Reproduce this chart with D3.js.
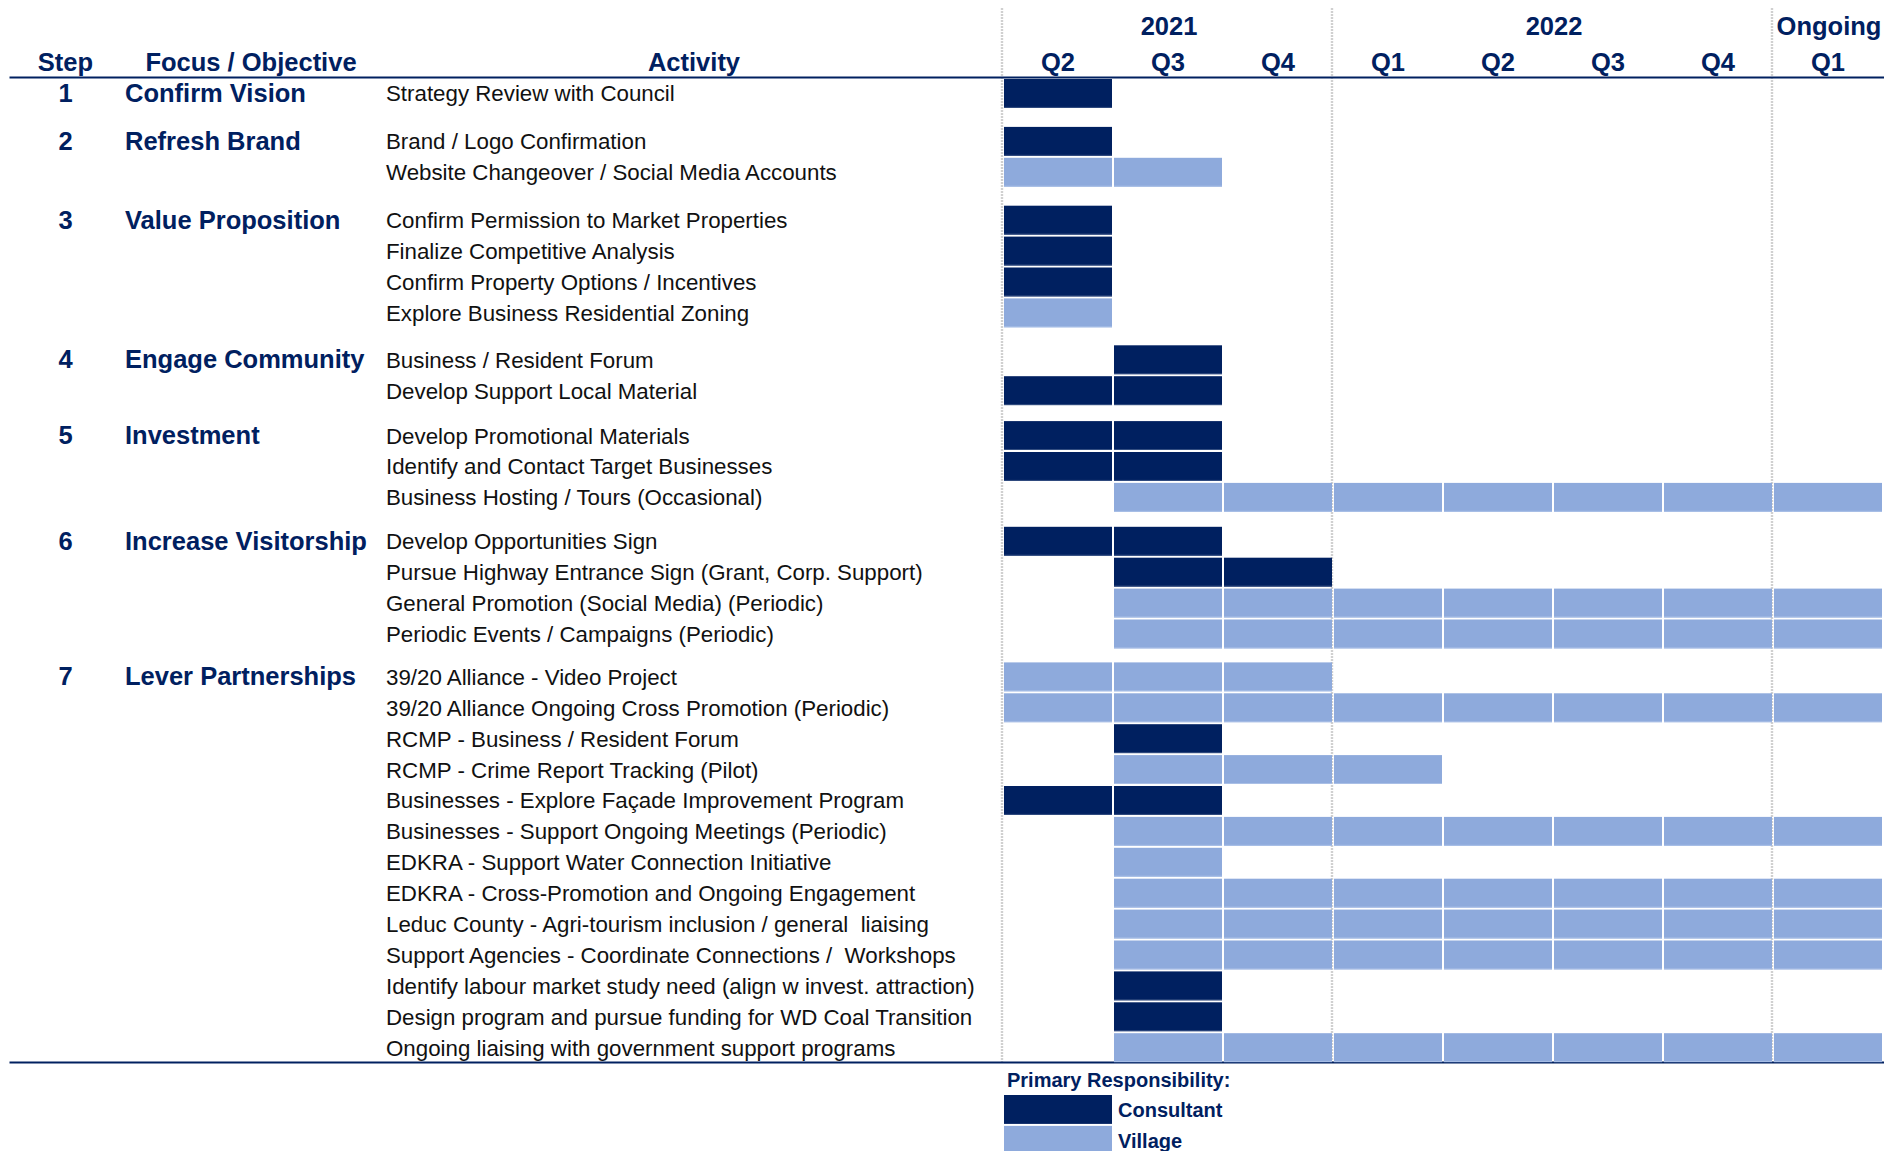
<!DOCTYPE html>
<html>
<head>
<meta charset="utf-8">
<script src="https://cdn.jsdelivr.net/npm/d3@7"></script>
<style>
  html, body { margin: 0; padding: 0; background: #ffffff; }
  svg { display: block; }
  text { font-family: "Liberation Sans", Arial, sans-serif; white-space: pre; }
</style>
</head>
<body>
<svg id="chart" width="1902" height="1151"></svg>
<script>
// ---- Timeline columns ----
const quarters = ["2021-Q2", "2021-Q3", "2021-Q4", "2022-Q1", "2022-Q2", "2022-Q3", "2022-Q4", "Ongoing-Q1"];
const quarterLabels = ["Q2", "Q3", "Q4", "Q1", "Q2", "Q3", "Q4", "Q1"];
const yearLabels = ["2021", "2022", "Ongoing"];
const yearSpans = [[0, 2], [3, 6], [7, 7]];

// ---- Steps (focus / objective) and how many activities each one holds ----
const stepNumbers = ["1", "2", "3", "4", "5", "6", "7"];
const stepFocus = ["Confirm Vision", "Refresh Brand", "Value Proposition", "Engage Community",
                   "Investment", "Increase Visitorship", "Lever Partnerships"];
const stepSizes = [1, 2, 4, 2, 3, 4, 13];

// ---- Activities ----
const activities = [
  "Strategy Review with Council",
  "Brand / Logo Confirmation",
  "Website Changeover / Social Media Accounts",
  "Confirm Permission to Market Properties",
  "Finalize Competitive Analysis",
  "Confirm Property Options / Incentives",
  "Explore Business Residential Zoning",
  "Business / Resident Forum",
  "Develop Support Local Material",
  "Develop Promotional Materials",
  "Identify and Contact Target Businesses",
  "Business Hosting / Tours (Occasional)",
  "Develop Opportunities Sign",
  "Pursue Highway Entrance Sign (Grant, Corp. Support)",
  "General Promotion (Social Media) (Periodic)",
  "Periodic Events / Campaigns (Periodic)",
  "39/20 Alliance - Video Project",
  "39/20 Alliance Ongoing Cross Promotion (Periodic)",
  "RCMP - Business / Resident Forum",
  "RCMP - Crime Report Tracking (Pilot)",
  "Businesses - Explore Façade Improvement Program",
  "Businesses - Support Ongoing Meetings (Periodic)",
  "EDKRA - Support Water Connection Initiative",
  "EDKRA - Cross-Promotion and Ongoing Engagement",
  "Leduc County - Agri-tourism inclusion / general  liaising",
  "Support Agencies - Coordinate Connections /  Workshops",
  "Identify labour market study need (align w invest. attraction)",
  "Design program and pursue funding for WD Coal Transition",
  "Ongoing liaising with government support programs"
];
// Primary responsibility per activity: C = Consultant, V = Village
const owner = ["C", "C", "V", "C", "C", "C", "V", "C", "C", "C", "C", "V", "C", "C", "V", "V",
               "V", "V", "C", "V", "C", "V", "V", "V", "V", "V", "C", "C", "V"];
// First and last quarter (index into quarters) of each activity
const startQ = [0, 0, 0, 0, 0, 0, 0, 1, 0, 0, 0, 1, 0, 1, 1, 1, 0, 0, 1, 1, 0, 1, 1, 1, 1, 1, 1, 1, 1];
const endQ   = [0, 0, 1, 0, 0, 0, 0, 1, 1, 1, 1, 7, 1, 2, 7, 7, 2, 7, 1, 3, 1, 7, 1, 7, 7, 7, 1, 1, 7];

const legendKeys = ["C", "V"];
const legendNames = ["Consultant", "Village"];

// ---- Styling ----
const NAVY = "#002060";
const LIGHT = "#8eaadc";
const fill = d3.scaleOrdinal().domain(legendKeys).range([NAVY, LIGHT]);
const edge = d3.scaleOrdinal().domain(legendKeys).range(["#324d80", "#a9bfe6"]);

// ---- Layout ----
const ROW = 30.9;
const firstRowTop = 78;
const groupGaps = [0, 17, 17, 16, 14, 13, 12];

// Row tops: rows are stacked, with a small spacer before each new step.
const rowTops = [];
const groupStart = [];
{
  let y = firstRowTop, idx = 0;
  stepSizes.forEach((n, g) => {
    y += groupGaps[g];
    groupStart.push(idx);
    for (let k = 0; k < n; k++) { rowTops.push(y); y += ROW; idx++; }
  });
}
const yRow = d3.scaleOrdinal().domain(d3.range(activities.length)).range(rowTops);
const tableBottom = rowTops[rowTops.length - 1] + ROW;

const x = d3.scaleBand().domain(quarters).range([1002, 1882]).paddingInner(0).paddingOuter(0);
const bw = x.bandwidth();

const svg = d3.select("#chart");

// Dotted grid lines at the timeline start, the year change and the ongoing column
const gridAt = [quarters[0], quarters[3], quarters[7]];
svg.append("g").selectAll("line").data(gridAt).join("line")
  .attr("x1", d => x(d)).attr("x2", d => x(d))
  .attr("y1", 8).attr("y2", tableBottom)
  .attr("stroke", "#d0d0d0").attr("stroke-width", 2.4).attr("stroke-dasharray", "2,1");

// ---- Column headers ----
const head = svg.append("g").attr("fill", NAVY).attr("font-weight", "bold").attr("font-size", 25.5)
  .attr("text-anchor", "middle");
head.append("text").attr("x", 65.5).attr("y", 70.5).text("Step");
head.append("text").attr("x", 251).attr("y", 70.5).text("Focus / Objective");
head.append("text").attr("x", 694).attr("y", 70.5).text("Activity");
head.selectAll("text.q").data(quarters).join("text").attr("class", "q")
  .attr("x", d => x(d) + bw / 2 + 1).attr("y", 70.5)
  .text((d, i) => quarterLabels[i]);
head.selectAll("text.yr").data(yearLabels).join("text").attr("class", "yr")
  .attr("x", (d, i) => (x(quarters[yearSpans[i][0]]) + x(quarters[yearSpans[i][1]]) + bw) / 2 + 2)
  .attr("y", 35)
  .text(d => d);

// Rules under the header and under the last row
svg.append("line").attr("x1", 9.5).attr("x2", 1884).attr("y1", 77.5).attr("y2", 77.5)
  .attr("stroke", NAVY).attr("stroke-width", 2.2);
svg.append("line").attr("x1", 9.5).attr("x2", 1884).attr("y1", tableBottom - 0.5).attr("y2", tableBottom - 0.5)
  .attr("stroke", NAVY).attr("stroke-width", 2);

// ---- Step numbers and focus ----
const steps = svg.append("g").attr("fill", NAVY).attr("font-weight", "bold").attr("font-size", 25.5);
steps.selectAll("text.num").data(stepNumbers).join("text").attr("class", "num")
  .attr("x", 65.5).attr("text-anchor", "middle")
  .attr("y", (d, i) => yRow(groupStart[i]) + ROW / 2 + 8.5)
  .text(d => d);
steps.selectAll("text.focus").data(stepFocus).join("text").attr("class", "focus")
  .attr("x", 125)
  .attr("y", (d, i) => yRow(groupStart[i]) + ROW / 2 + 8.5)
  .text(d => d);

// ---- Activity names ----
svg.append("g").attr("fill", "#111111").attr("font-size", 22.3)
  .selectAll("text").data(activities).join("text")
  .attr("x", 386)
  .attr("y", (d, i) => yRow(i) + ROW / 2 + 8)
  .text(d => d);

// ---- Gantt cells: one block per quarter covered by each activity ----
const cells = [];
activities.forEach((a, i) => {
  for (let q = startQ[i]; q <= endQ[i]; q++) cells.push({ row: i, q: quarters[q], who: owner[i] });
});
const barH = ROW - 2;
const cellG = svg.append("g").selectAll("g").data(cells).join("g");
cellG.append("rect")
  .attr("x", d => x(d.q) + 2).attr("width", bw - 2)
  .attr("y", d => yRow(d.row) + 1).attr("height", barH)
  .attr("fill", d => fill(d.who));
cellG.append("rect")
  .attr("x", d => x(d.q) + 2).attr("width", bw - 2)
  .attr("y", d => yRow(d.row) + barH).attr("height", 1)
  .attr("fill", d => edge(d.who));

// ---- Legend ----
const leg = svg.append("g");
leg.append("text").attr("x", 1007).attr("y", 1086.5)
  .attr("fill", NAVY).attr("font-weight", "bold").attr("font-size", 20)
  .text("Primary Responsibility:");
const legRows = leg.selectAll("g.item").data(legendKeys).join("g").attr("class", "item");
legRows.append("rect")
  .attr("x", x(quarters[0]) + 2).attr("width", bw - 2)
  .attr("y", (d, i) => 1095 + i * ROW).attr("height", barH)
  .attr("fill", d => fill(d));
legRows.append("text")
  .attr("x", 1118).attr("y", (d, i) => 1095 + i * ROW + barH / 2 + 7.5)
  .attr("fill", NAVY).attr("font-weight", "bold").attr("font-size", 20)
  .text((d, i) => legendNames[i]);
</script>
</body>
</html>
